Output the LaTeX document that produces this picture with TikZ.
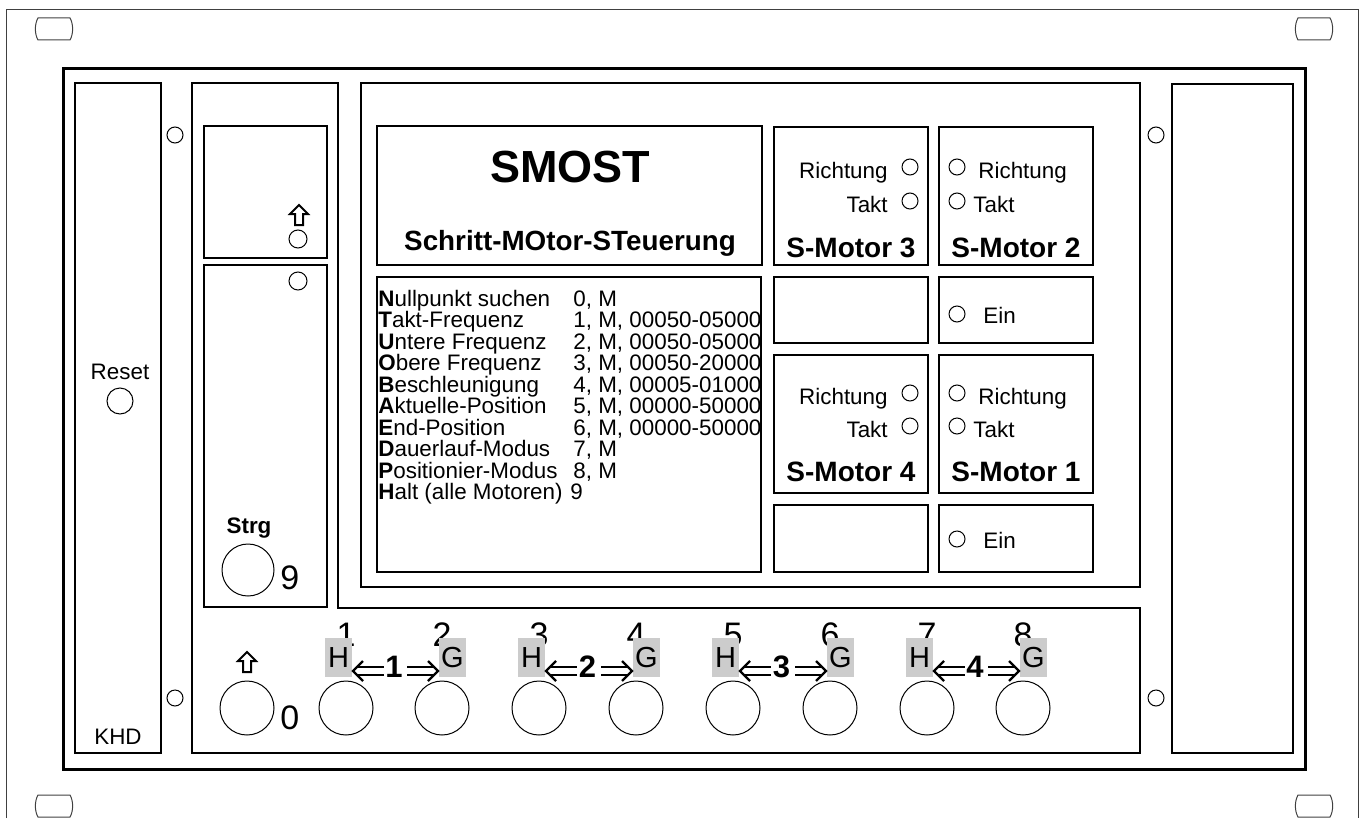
\documentclass[tikz,border=0pt]{standalone}
\usepackage{fontspec}
\setmainfont{Liberation Sans}
\usetikzlibrary{calc}
\begin{document}
\begin{tikzpicture}[x=0.5pt,y=-0.5pt,
  frameline/.style={line width=1.5pt},
  boxline/.style={line width=1.3pt},
  led/.style={line width=0.5pt},
  thinline/.style={line width=0.5pt, draw=black!75},
  t/.style={inner sep=0pt, font=\fontsize{11.2}{13}\selectfont},
  tb/.style={inner sep=0pt, font=\fontsize{11.2}{13}\selectfont\bfseries},
  motor/.style={inner sep=0pt, font=\fontsize{14}{16}\selectfont\bfseries},
  bigdigit/.style={inner sep=0pt, font=\fontsize{17}{19}\selectfont},
  bigbold/.style={inner sep=0pt, font=\fontsize{15.5}{18}\selectfont\bfseries},
  gbox/.style={fill=black!20, inner sep=0pt, minimum width=13.5pt, minimum height=19.5pt, font=\fontsize{14.5}{16}\selectfont},
  dblline/.style={line width=1pt, double distance=3pt, shorten >=2.5pt},
  chev/.style={line width=1.1pt, line join=miter, line cap=butt},
  hollowarrow/.style={line width=1pt, line join=miter},
  slot/.pic={\draw[thinline] (-16,-11) -- (16,-11) .. controls (19.5,-5) and (19.5,5) .. (16,11) -- (-16,11) .. controls (-19.5,5) and (-19.5,-5) .. (-16,-11) -- cycle;}
]
\useasboundingbox (0,0) rectangle (1368,818);
% outer plate
\draw[thinline] (6,818) -- (6,10) -- (1358,10) -- (1358,818);
\pic at (54,29) {slot};
\pic at (1314,29) {slot};
\pic at (54,806) {slot};
\pic at (1314,806) {slot};
% main frame
\draw[frameline] (63,69) rectangle (1305,769);
% mounting holes
\foreach \hx/\hy in {175/135,175/698,1156/135,1156/698}
  \draw[led] (\hx,\hy) circle[radius=4pt];
% left panel
\draw[boxline] (75,83) rectangle (161,753);
\node[t, anchor=base] (reset) at (120,379) {Reset};
\draw[led] (120,401) circle[radius=6.5pt];
\node[t, anchor=base] (khd) at (118,744) {KHD};
% right panel
\draw[boxline] (1172,84) rectangle (1293,753);
% L-shaped control panel
\draw[boxline] (192,83) -- (338,83) -- (338,608) -- (1140,608) -- (1140,753) -- (192,753) -- cycle;
\draw[boxline] (204,126) rectangle (327,258);
\draw[boxline] (204,265) rectangle (327,607);
\draw[hollowarrow] (299,205) -- (308,214) -- (303,214) -- (303,225) -- (295,225) -- (295,214) -- (290,214) -- cycle;
\draw[led] (298,239) circle[radius=4.5pt];
\draw[led] (298,281) circle[radius=4.5pt];
\node[tb, anchor=base] (strg) at (249,533) {Strg};
\draw[led] (248,570) circle[radius=13pt];
\node[bigdigit, anchor=base west] (nine) at (280,589) {9};
% bottom row
\draw[hollowarrow] (247,652) -- (256,661) -- (251,661) -- (251,672) -- (243,672) -- (243,661) -- (238,661) -- cycle;
\draw[led] (247,708) circle[radius=13.5pt];
\node[bigdigit, anchor=base west] (zero) at (280,729) {0};
\foreach \c [count=\i] in {346,442,539,636,733,830,927,1023}{
  \node[bigdigit, anchor=base] (num\i) at (\c,646) {\i};
  \draw[led] (\c,708) circle[radius=13.5pt];
}
\foreach \ca/\cb/\k in {346/442/1,539/636/2,733/830/3,927/1023/4}{
  \node[gbox] (h\k) at ({\ca-7.5},657.5) {H};
  \node[gbox] (g\k) at ({\cb+10.5},657.5) {G};
  \node[bigbold, anchor=base] (p\k) at ({(\ca+\cb)/2},677) {\k};
  \coordinate (al\k) at ({\ca+38},671);
  \coordinate (ar\k) at ({\cb-35},671);
  \coordinate (tl\k) at ({\ca+7},671);
  \coordinate (tr\k) at ({\cb-4},671);
  \draw[dblline] (al\k) -- (tl\k);
  \draw[dblline] (ar\k) -- (tr\k);
  \draw[chev] ($(tl\k)+(10,-10)$) -- (tl\k) -- ($(tl\k)+(10,10)$);
  \draw[chev] ($(tr\k)+(-10,-10)$) -- (tr\k) -- ($(tr\k)+(-10,10)$);
}
% display panel
\draw[boxline] (361,83) rectangle (1140,587);
\draw[boxline] (377,126) rectangle (762,265);
\node[inner sep=0pt, font=\fontsize{22.5}{26}\selectfont\bfseries, anchor=base] (smost) at (570,183) {SMOST};
\node[inner sep=0pt, font=\fontsize{13.9}{16}\selectfont\bfseries, anchor=base] (sub) at (570,250) {Schritt-MOtor-STeuerung};
% command list
\draw[boxline] (377,277) rectangle (761,572);
\foreach \f/\r/\v [count=\i from 0] in {
  N/ullpunkt suchen/{0, M},
  T/akt-Frequenz/{1, M, 00050-05000},
  U/ntere Frequenz/{2, M, 00050-05000},
  O/bere Frequenz/{3, M, 00050-20000},
  B/eschleunigung/{4, M, 00005-01000},
  A/ktuelle-Position/{5, M, 00000-50000},
  E/nd-Position/{6, M, 00000-50000},
  D/auerlauf-Modus/{7, M},
  P/ositionier-Modus/{8, M}}{
  \node[t, anchor=base west] (cmd\i) at (378,{306+21.5*\i}) {\textbf{\f}\r};
  \node[t, anchor=base west] (val\i) at (573,{306+21.5*\i}) {\v};
}
\node[t, anchor=base west] (cmd9) at (378,499.5) {\textbf{H}alt (alle Motoren)};
\node[t, anchor=base west] (val9) at (570,499.5) {9};
% motor boxes
\draw[boxline] (774,127) rectangle (928,265);
\draw[boxline] (939,127) rectangle (1093,265);
\draw[boxline] (774,277) rectangle (928,343);
\draw[boxline] (939,277) rectangle (1093,343);
\draw[boxline] (774,355) rectangle (928,493);
\draw[boxline] (939,355) rectangle (1093,493);
\draw[boxline] (774,505) rectangle (928,572);
\draw[boxline] (939,505) rectangle (1093,572);
% S-Motor 3
\node[t, anchor=base east] (r3) at (888,179) {Richtung};
\draw[led] (910,167) circle[radius=4pt];
\node[t, anchor=base east] (t3) at (888,213) {Takt};
\draw[led] (910,201) circle[radius=4pt];
\node[motor, anchor=base] (m3) at (851,257) {S-Motor 3};
% S-Motor 2
\draw[led] (957,167) circle[radius=4pt];
\node[t, anchor=base west] (r2) at (978,179) {Richtung};
\draw[led] (957,201) circle[radius=4pt];
\node[t, anchor=base west] (t2) at (973,213) {Takt};
\node[motor, anchor=base] (m2) at (1016,257) {S-Motor 2};
% Ein upper
\draw[led] (957,314) circle[radius=4pt];
\node[t, anchor=base west] (ein1) at (983,323) {Ein};
% S-Motor 4
\node[t, anchor=base east] (r4) at (888,404) {Richtung};
\draw[led] (910,393) circle[radius=4pt];
\node[t, anchor=base east] (t4) at (888,437) {Takt};
\draw[led] (910,426) circle[radius=4pt];
\node[motor, anchor=base] (m4) at (851,481) {S-Motor 4};
% S-Motor 1
\draw[led] (957,393) circle[radius=4pt];
\node[t, anchor=base west] (r1) at (978,404) {Richtung};
\draw[led] (957,426) circle[radius=4pt];
\node[t, anchor=base west] (t1) at (973,437) {Takt};
\node[motor, anchor=base] (m1) at (1016,481) {S-Motor 1};
% Ein lower
\draw[led] (957,539) circle[radius=4pt];
\node[t, anchor=base west] (ein2) at (983,548) {Ein};
\end{tikzpicture}
\end{document}
